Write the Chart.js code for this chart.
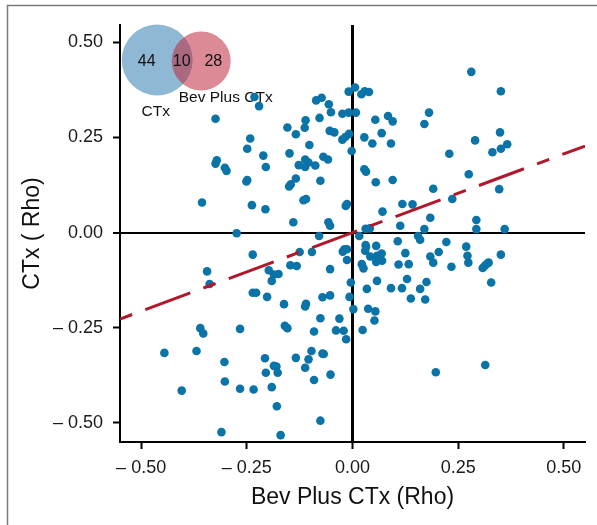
<!DOCTYPE html>
<html><head><meta charset="utf-8">
<style>html,body{margin:0;padding:0;background:#fff;}#wrap{width:597px;height:525px;position:relative;}</style>
<script src="https://cdn.jsdelivr.net/npm/chart.js@4.4.1/dist/chart.umd.min.js"></script>
</head><body><div id="wrap"><canvas id="c" width="597" height="525"></canvas></div>
<script>
// Bev Plus CTx (Rho) values
const bevPlusCtxRho = [
-0.232,-0.221,-0.324,-0.242,-0.249,-0.324,-0.321,-0.302,-0.298,-0.211,-0.205,-0.249,-0.251,-0.356,-0.238,-0.206,-0.274,
-0.154,-0.134,-0.111,-0.113,-0.102,-0.149,-0.127,-0.112,-0.104,-0.112,-0.088,-0.134,-0.146,-0.150,-0.076,-0.116,-0.110,-0.140,
-0.086,-0.073,-0.056,-0.051,-0.078,-0.054,-0.043,-0.069,-0.058,-0.024,-0.009,-0.009,-0.024,-0.017,-0.008,-0.002,-0.016,-0.013,-0.057,-0.053,
0.006,0.008,0.021,0.029,0.039,0.028,0.047,0.054,0.069,0.084,0.095,0.091,0.028,0.032,0.055,0.095,0.071,0.118,0.142,0.113,0.031,0.041,
0.170,0.184,0.191,0.236,0.170,0.181,0.229,0.275,0.281,0.290,0.293,0.293,0.351,0.349,0.331,0.351,0.366,0.347,0.360,
-0.079,-0.236,-0.344,-0.338,-0.360,-0.353,-0.445,-0.404,-0.369,-0.303,-0.302,-0.310,-0.266,-0.266,-0.234,-0.236,-0.228,-0.202,
-0.198,-0.191,-0.186,-0.175,-0.162,-0.147,-0.132,-0.125,-0.096,-0.160,-0.154,-0.110,-0.112,-0.207,-0.205,-0.186,-0.180,-0.177,
-0.191,-0.179,-0.170,-0.134,-0.112,-0.104,-0.097,-0.091,-0.091,-0.076,-0.071,-0.053,-0.053,-0.071,-0.068,-0.052,-0.076,
-0.031,-0.039,-0.021,-0.015,-0.023,-0.019,-0.013,-0.013,-0.004,-0.007,
0.002,0.016,0.031,0.032,0.030,0.056,0.042,0.056,0.058,0.069,0.070,0.022,0.026,0.107,0.125,0.109,0.133,0.155,0.160,0.184,0.191,
0.204,0.222,0.234,0.269,0.272,0.274,0.058,0.034,0.091,0.117,0.129,0.138,0.175,0.160,0.172,0.037,0.054,0.052,0.024,
0.308,0.313,0.318,0.322,0.328,0.351,0.197,0.314
];
// CTx (Rho) values
const ctxRho = [
0.356,0.332,0.299,0.247,0.220,0.181,0.190,0.170,0.162,0.202,0.172,0.138,0.134,0.079,0.072,0.061,-0.002,
0.276,0.258,0.295,0.275,0.230,0.208,0.177,0.192,0.184,0.172,0.176,0.142,0.127,0.121,0.136,0.085,0.088,0.027,
0.347,0.354,0.337,0.316,0.301,0.267,0.263,0.199,0.192,0.312,0.315,0.370,0.244,0.251,0.259,0.214,0.070,0.075,0.027,0.018,
0.381,0.315,0.363,0.371,0.369,0.250,0.234,0.296,0.261,0.306,0.292,0.234,0.166,0.160,0.132,0.138,0.055,0.075,0.074,0.018,0.010,0.011,
0.009,0.039,0.115,0.088,0.285,0.315,0.207,0.153,0.422,0.242,0.033,0.009,0.371,0.263,0.211,0.220,0.232,0.114,0.009,
-0.009,-0.058,-0.102,-0.135,-0.251,-0.265,-0.316,-0.415,-0.311,-0.340,-0.391,-0.524,-0.253,-0.410,-0.412,-0.158,-0.158,-0.169,
-0.099,-0.127,-0.110,-0.109,-0.188,-0.086,-0.088,-0.051,-0.051,-0.245,-0.251,-0.187,-0.194,-0.330,-0.368,-0.350,-0.352,-0.368,
-0.406,-0.456,-0.532,-0.329,-0.355,-0.333,-0.311,-0.260,-0.387,-0.225,-0.170,-0.165,-0.096,-0.318,-0.319,-0.373,-0.494,
-0.226,-0.257,-0.258,-0.280,-0.050,-0.044,-0.044,-0.072,-0.131,-0.169,
-0.201,-0.009,-0.033,-0.038,-0.048,-0.035,-0.063,-0.077,-0.061,-0.055,-0.074,-0.083,-0.094,-0.023,-0.054,-0.084,-0.083,-0.009,-0.019,-0.063,-0.079,
-0.051,-0.025,-0.090,-0.037,-0.061,-0.079,-0.127,-0.148,-0.146,-0.146,-0.122,-0.173,-0.130,-0.148,-0.176,-0.200,-0.207,-0.231,-0.256,
-0.093,-0.087,-0.082,-0.079,-0.131,-0.058,-0.367,-0.348
];
const fitSlope = 0.413;
const fitXRange = [-0.55, 0.55];
const xTickValues = [-0.5, -0.25, 0, 0.25, 0.5];
const yTickValues = [-0.5, -0.25, 0, 0.25, 0.5];
const vennSetNames = ['CTx', 'Bev Plus CTx'];
const vennCounts = [44, 10, 28]; // CTx only, both, Bev Plus CTx only

const points = bevPlusCtxRho.map((x, i) => ({x: x, y: ctxRho[i]}));
const fitLine = fitXRange.map(x => ({x: x, y: fitSlope * x}));

const fmt = v => {
  if (Math.abs(v) < 1e-9) return '0.00';
  return v < 0 ? '\u2013 ' + Math.abs(v).toFixed(2) : v.toFixed(2);
};
const TICK_FONT = {family: "'Liberation Sans', Arial, sans-serif", size: 18};
const TITLE_FONT = {family: "'Liberation Sans', Arial, sans-serif", size: 23};

const vennPlugin = {
  id: 'venn',
  beforeDatasetsDraw(chart) {
    const {ctx, chartArea} = chart;
    const L = chartArea.left, T = chartArea.top;
    ctx.save();
    ctx.fillStyle = 'rgba(51,126,177,0.55)';
    ctx.beginPath(); ctx.arc(L + 37.2, T + 35, 35.5, 0, Math.PI * 2); ctx.fill();
    ctx.fillStyle = 'rgba(191,42,62,0.55)';
    ctx.beginPath(); ctx.arc(L + 81.2, T + 36, 29.5, 0, Math.PI * 2); ctx.fill();
    ctx.fillStyle = '#111';
    ctx.textAlign = 'center'; ctx.textBaseline = 'middle';
    ctx.font = "16px 'Liberation Sans', Arial, sans-serif";
    ctx.fillText(String(vennCounts[0]), L + 26.7, T + 36.7);
    ctx.fillText(String(vennCounts[1]), L + 61.7, T + 36.7);
    ctx.fillText(String(vennCounts[2]), L + 93.3, T + 36.7);
    ctx.font = "15.5px 'Liberation Sans', Arial, sans-serif";
    ctx.fillText(vennSetNames[0], L + 35.8, T + 86.5);
    ctx.fillText(vennSetNames[1], L + 105.7, T + 72.5);
    ctx.restore();
  }
};
const framePlugin = {
  id: 'frame',
  afterDraw(chart) {
    const ctx = chart.ctx;
    ctx.save();
    ctx.strokeStyle = '#7a7a7a'; ctx.lineWidth = 1.5;
    ctx.beginPath(); ctx.moveTo(7.5, 525); ctx.lineTo(7.5, 5.5); ctx.lineTo(597, 5.5); ctx.stroke();
    ctx.restore();
  }
};

new Chart(document.getElementById('c'), {
  type: 'scatter',
  data: {
    datasets: [
      {data: fitLine, showLine: true, borderColor: '#b2182b', borderWidth: 3, borderDash: [13, 14, 48, 14],
       pointRadius: 0, pointHoverRadius: 0, fill: false},
      {data: points, pointRadius: 4.3, pointHoverRadius: 4.3, backgroundColor: '#0a73a8', borderWidth: 0, showLine: false}
    ]
  },
  options: {
    responsive: false, animation: false, devicePixelRatio: 1,
    layout: {padding: {left: 0, top: 25, right: 12, bottom: 0}},
    plugins: {legend: {display: false}, tooltip: {enabled: false}},
    scales: {
      x: {
        type: 'linear', min: -0.55, max: 0.55,
        afterBuildTicks: s => { s.ticks = xTickValues.map(v => ({value: v})); },
        afterFit: s => { s.height = 83; },
        ticks: {callback: v => fmt(v), font: TICK_FONT, color: '#1a1a1a', padding: 8, maxRotation: 0, autoSkip: false},
        grid: {
          color: c => (c.tick && c.tick.value === 0) ? '#000' : 'rgba(0,0,0,0)',
          lineWidth: c => (c.tick && c.tick.value === 0) ? 3 : 1,
          tickColor: '#000', tickWidth: 2, tickLength: 7
        },
        border: {display: true, color: '#000', width: 2},
        title: {display: true, text: 'Bev Plus CTx (Rho)', font: TITLE_FONT, color: '#111', padding: {top: 0, bottom: 14}}
      },
      y: {
        type: 'linear', min: -0.55, max: 0.545,
        afterBuildTicks: s => { s.ticks = yTickValues.map(v => ({value: v})); },
        afterFit: s => { s.width = 120; },
        ticks: {callback: v => fmt(v), font: TICK_FONT, color: '#1a1a1a', padding: 10, autoSkip: false},
        grid: {
          color: c => (c.tick && c.tick.value === 0) ? '#000' : 'rgba(0,0,0,0)',
          lineWidth: c => (c.tick && c.tick.value === 0) ? 2 : 1,
          tickColor: '#000', tickWidth: 2, tickLength: 7
        },
        border: {display: true, color: '#000', width: 2},
        title: {display: true, text: 'CTx ( Rho)', font: TITLE_FONT, color: '#111', padding: {top: 19, bottom: 0}}
      }
    }
  },
  plugins: [vennPlugin, framePlugin]
});
</script></body></html>
